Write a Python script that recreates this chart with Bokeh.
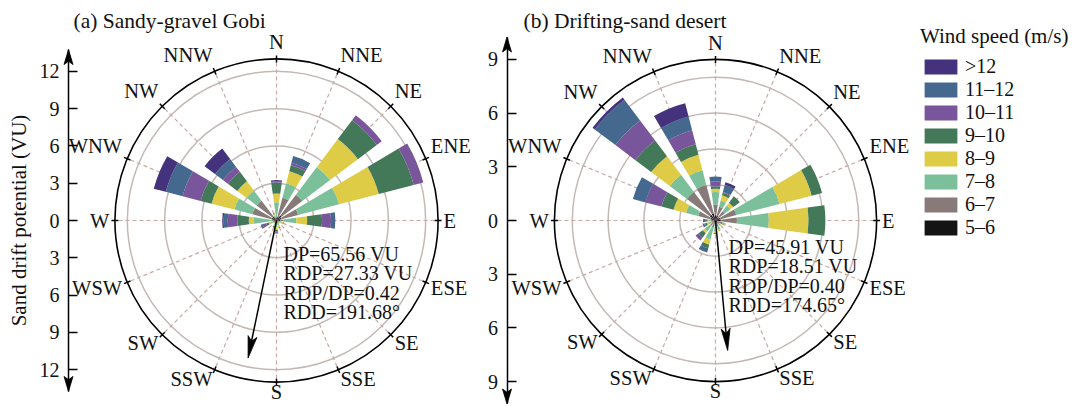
import math
from bokeh.plotting import figure
from bokeh.models import (Range1d, LinearAxis, FixedTicker, Label, Legend,
                          LegendItem, ColumnDataSource, CustomJSTickFormatter)
from bokeh.layouts import row
from bokeh.embed import file_html
from bokeh.resources import INLINE
from bokeh.core.properties import value

FONT = "Liberation Serif"

# ---------------- data ----------------
directions = ["N", "NNE", "NE", "ENE", "E", "ESE", "SE", "SSE",
              "S", "SSW", "SW", "WSW", "W", "WNW", "NW", "NNW"]
direction_deg = [0.0, 22.5, 45.0, 67.5, 90.0, 112.5, 135.0, 157.5,
                 180.0, 202.5, 225.0, 247.5, 270.0, 292.5, 315.0, 337.5]
speed_classes = ["5–6", "6–7", "7–8", "8–9", "9–10", "10–11", "11–12", ">12"]
speed_colors = ["#141414", "#877a78", "#7bc09a", "#dfcc46",
                "#437958", "#79559b", "#45698e", "#44337c"]

# (a) Sandy-gravel Gobi: sand drift potential (VU) by direction, per speed class
gobi_5_6 = [0.2, 0.3, 0.5, 0.4, 0.3, 0.1, 0.05, 0.1, 0.1, 0.1, 0.05, 0.1, 0.2, 0.4, 0.4, 0.1]
gobi_6_7 = [0.1, 1.6, 2.1, 1.4, 0.25, 0.1, 0.05, 0.1, 0.15, 0.1, 0.05, 0.15, 0.15, 1.6, 1.6, 0.15]
gobi_7_8 = [1.17, 1.2, 2.8, 3.4, 1.05, 0.25, 0.15, 0.2, 0.3, 0.2, 0.1, 0.25, 1.48, 1.5, 1.0, 0.2]
gobi_8_9 = [0.7, 1.0, 2.8, 3.3, 0.87, 0.1, 0.05, 0.2, 0.2, 0.1, 0.05, 0.15, 0.4, 1.9, 0.95, 0.1]
gobi_9_10 = [0.88, 0.5, 1.9, 2.9, 1.2, 0.05, 0.0, 0.05, 0.15, 0.1, 0.0, 0.2, 0.93, 0.9, 0.95, 0.05]
gobi_10_11 = [0.05, 0.2, 0.5, 0.8, 0.72, 0.0, 0.0, 0.0, 0.05, 0.0, 0.0, 0.3, 0.76, 1.5, 0.5, 0.0]
gobi_11_12 = [0.05, 0.55, 0.0, 0.0, 0.35, 0.0, 0.0, 0.0, 0.1, 0.0, 0.0, 0.1, 0.34, 1.4, 0.8, 0.0]
gobi_gt12 = [0.1, 0.0, 0.0, 0.0, 0.0, 0.0, 0.0, 0.0, 0.0, 0.0, 0.0, 0.05, 0.11, 1.0, 1.05, 0.0]
gobi_stats = ["DP=65.56 VU", "RDP=27.33 VU", "RDP/DP=0.42", "RDD=191.68°"]
gobi_rdd = 191.68
gobi_arrow_len = 11.3
gobi_rings = [3, 6, 9, 12]
gobi_rmax = 13
gobi_ticks = [-12, -9, -6, -3, 0, 3, 6, 9, 12]

# (b) Drifting-sand desert
desert_5_6 = [0.3, 0.3, 0.2, 0.3, 0.3, 0.1, 0.1, 0.1, 0.1, 0.1, 0.1, 0.1, 0.1, 0.3, 0.4, 0.4]
desert_6_7 = [0.58, 0.5, 0.45, 0.9, 0.9, 0.3, 0.15, 0.25, 0.2, 0.3, 0.25, 0.15, 0.15, 0.7, 1.6, 1.65]
desert_7_8 = [0.71, 0.35, 0.4, 2.5, 1.78, 0.15, 0.1, 0.2, 0.3, 0.7, 0.4, 0.15, 0.15, 0.7, 1.2, 0.85]
desert_8_9 = [0.19, 0.3, 0.2, 1.85, 2.22, 0.05, 0.05, 0.05, 0.1, 0.3, 0.15, 0.1, 0.05, 0.72, 1.3, 0.9]
desert_9_10 = [0.13, 0.15, 0.45, 0.6, 0.94, 0.0, 0.0, 0.0, 0.05, 0.2, 0.3, 0.1, 0.05, 0.7, 1.1, 0.6]
desert_10_11 = [0.27, 0.05, 0.0, 0.0, 0.0, 0.0, 0.0, 0.0, 0.0, 0.0, 0.2, 0.05, 0.05, 0.92, 1.4, 0.8]
desert_11_12 = [0.28, 0.4, 0.0, 0.0, 0.0, 0.0, 0.0, 0.0, 0.0, 0.25, 0.0, 0.1, 0.15, 0.73, 1.45, 0.8]
desert_gt12 = [0.0, 0.15, 0.0, 0.0, 0.0, 0.0, 0.0, 0.0, 0.0, 0.0, 0.0, 0.0, 0.0, 0.0, 0.15, 0.77]
desert_stats = ["DP=45.91 VU", "RDP=18.51 VU", "RDP/DP=0.40", "RDD=174.65°"]
desert_rdd = 174.65
desert_arrow_len = 7.3
desert_rings = [2, 4, 6, 8]
desert_rmax = 9
desert_ticks = [-9, -6, -3, 0, 3, 6, 9]

gobi_classes = [gobi_5_6, gobi_6_7, gobi_7_8, gobi_8_9, gobi_9_10, gobi_10_11, gobi_11_12, gobi_gt12]
desert_classes = [desert_5_6, desert_6_7, desert_7_8, desert_8_9, desert_9_10,
                  desert_10_11, desert_11_12, desert_gt12]

H = 406


def head(p, tip_x, tip_y, ux, uy, length, half_w):
    """Slim notched (stealth) arrow head pointing along (ux, uy)."""
    qx, qy = -uy, ux
    bx, by = tip_x - length * ux, tip_y - length * uy
    nx, ny = tip_x - 0.78 * length * ux, tip_y - 0.78 * length * uy
    p.patch(x=[tip_x, bx + half_w * qx, nx, bx - half_w * qx],
            y=[tip_y, by + half_w * qy, ny, by - half_w * qy],
            fill_color="black", line_color="black", line_width=0.8)


def build_panel(width, s, cx, cy, classes, rings, rmax, ticks, axis_ext, axis_px,
                rdd, arrow_len, stats, stats_dx, stats_dy, title, title_x, ylabel):
    p = figure(width=width, height=H,
               x_range=Range1d(-cx / s, (width - cx) / s),
               y_range=Range1d(-(H - cy) / s, cy / s),
               x_axis_type=None, y_axis_type=None, toolbar_location=None,
               output_backend="svg", min_border=0, outline_line_color=None)

    # grid rings and dashed radial lines
    p.circle(x=[0] * len(rings), y=[0] * len(rings), radius=rings,
             fill_color=None, line_color="#c3b9b4", line_width=1.5)
    th = [math.radians(d) for d in direction_deg]
    p.segment(x0=[0] * 16, y0=[0] * 16,
              x1=[rmax * math.sin(t) for t in th], y1=[rmax * math.cos(t) for t in th],
              line_color="#c7a9a5", line_width=1.2, line_dash="4 3")

    # stacked wedges
    half = math.radians(8)
    mids = [math.radians(90 - d) for d in direction_deg]
    cum = [0.0] * 16
    rends = []
    for name, vals, col in zip(speed_classes, classes, speed_colors):
        outer = [c + v for c, v in zip(cum, vals)]
        src = ColumnDataSource(dict(inner=cum, outer=outer,
                                    start=[m - half for m in mids],
                                    end=[m + half for m in mids]))
        r = p.annular_wedge(x=0, y=0, inner_radius="inner", outer_radius="outer",
                            start_angle="start", end_angle="end",
                            fill_color=col, line_color=None, source=src)
        rends.append(r)
        cum = outer

    # outer circle with direction ticks
    p.circle(x=[0], y=[0], radius=[rmax], fill_color=None, line_color="black", line_width=1.6)
    d = 3.5 / s
    p.segment(x0=[(rmax - d) * math.sin(t) for t in th], y0=[(rmax - d) * math.cos(t) for t in th],
              x1=[(rmax + d) * math.sin(t) for t in th], y1=[(rmax + d) * math.cos(t) for t in th],
              line_color="black", line_width=1.5)

    # direction labels
    lr = rmax + 5.5 / s
    aligns, bases, lx, ly = [], [], [], []
    for t in th:
        ux, uy = math.sin(t), math.cos(t)
        aligns.append("left" if ux > 0.2 else ("right" if ux < -0.2 else "center"))
        if uy > 0.2:
            bases.append("bottom")
            shift = 0.0
        elif uy < -0.2:
            bases.append("top")
            shift = 7.0 / s
        else:
            bases.append("middle")
            shift = 0.0
        lx.append(lr * ux)
        ly.append(lr * uy + shift)
    lsrc = ColumnDataSource(dict(x=lx, y=ly, text=directions, align=aligns, base=bases))
    p.text(x="x", y="y", text="text", text_align="align", text_baseline="base",
           text_font=value(FONT), text_font_size="20.5px", text_color="#111111", source=lsrc)

    # resultant drift direction arrow
    t = math.radians(rdd)
    ux, uy = math.sin(t), math.cos(t)
    hl = 22 / s
    p.segment(x0=[0], y0=[0], x1=[(arrow_len - 0.7 * hl) * ux], y1=[(arrow_len - 0.7 * hl) * uy],
              line_color="black", line_width=1.5)
    head(p, arrow_len * ux, arrow_len * uy, ux, uy, hl, 4.5 / s)

    # statistics
    p.text(x=[stats_dx / s] * len(stats),
           y=[-(stats_dy + 19.5 * i) / s for i in range(len(stats))],
           text=stats, text_align="left", text_baseline="middle",
           text_font=value(FONT), text_font_size="20px", text_color="#111111")

    # vertical sand-drift-potential axis with arrow heads
    ax_x = (axis_px - cx) / s
    axis = LinearAxis(fixed_location=ax_x, bounds=(-axis_ext, axis_ext),
                      ticker=FixedTicker(ticks=ticks),
                      formatter=CustomJSTickFormatter(code="return Math.abs(tick).toString()"),
                      axis_line_color="black", axis_line_width=1.5,
                      major_tick_in=9, major_tick_out=0, major_tick_line_width=1.5,
                      minor_tick_line_color=None,
                      major_label_text_font=FONT, major_label_text_font_size="20px",
                      major_label_text_color="#111111", major_label_standoff=9)
    if ylabel:
        axis.axis_label = ylabel
        axis.axis_label_text_font = FONT
        axis.axis_label_text_font_size = "21px"
        axis.axis_label_text_font_style = "normal"
        axis.axis_label_text_color = "#111111"
        axis.axis_label_standoff = 6
    p.add_layout(axis, "left")
    head(p, ax_x, axis_ext, 0, 1, 15 / s, 4.5 / s)
    head(p, ax_x, -axis_ext, 0, -1, 15 / s, 4.5 / s)

    p.add_layout(Label(x=title_x, y=H - 20, x_units="screen", y_units="screen", text=title,
                       text_font=FONT, text_font_size="21.5px", text_baseline="middle",
                       text_color="#111111"))
    return p, rends


pa, _ = build_panel(482, 12.43, 276, 220, gobi_classes, gobi_rings, gobi_rmax, gobi_ticks,
                    13.75, 68, gobi_rdd, gobi_arrow_len, gobi_stats, 7, 33,
                    "(a) Sandy-gravel Gobi", 73, "Sand drift potential (VU)")
pb, rends_b = build_panel(595, 17.9, 233, 220, desert_classes, desert_rings, desert_rmax,
                          desert_ticks, 10.25, 24.5, desert_rdd, desert_arrow_len, desert_stats,
                          13, 26, "(b) Drifting-sand desert", 41, None)

items = [LegendItem(label=name, renderers=[r]) for name, r in zip(speed_classes, rends_b)][::-1]
legend = Legend(items=items, title="Wind speed (m/s)", location=(438, 167),
                title_text_font=FONT, title_text_font_size="21px", title_text_font_style="normal",
                title_text_color="#111111", title_standoff=6,
                label_text_font=FONT, label_text_font_size="20px", label_text_color="#111111",
                glyph_width=41, glyph_height=19, label_standoff=4, spacing=0,
                padding=0, margin=0, border_line_color=None, background_fill_alpha=0)
pb.add_layout(legend)

layout = row(pa, pb)
open("out.html", "w").write(file_html(layout, INLINE))
